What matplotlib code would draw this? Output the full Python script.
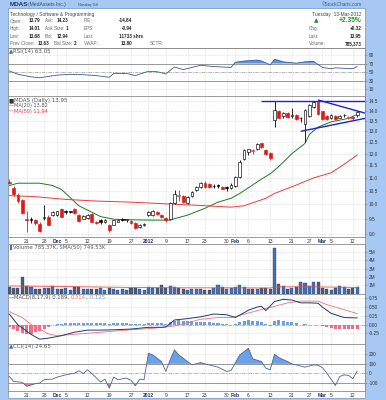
import matplotlib
matplotlib.use('Agg')
import matplotlib.pyplot as plt
import numpy as np
from matplotlib.patches import Rectangle

W, H = 386, 400
BG = '#a6c8f2'
RED = '#dd1a1a'

plt.rcParams['font.family'] = ['Liberation Sans', 'DejaVu Sans']

# ---- daily data, 15-Nov-2011 .. 13-Mar-2012 (81 trading days) ----
opens = [10.85, 10.62, 10.35, 10.15, 9.50, 9.48, 9.45, 9.33, 9.52, 9.57,
         9.62, 9.64, 9.85, 9.75, 9.76, 9.85, 9.62, 9.50, 9.52, 9.66,
         9.38, 9.45, 9.39, 9.30, 9.30, 9.40, 9.50, 9.45, 9.42, 9.36,
         9.22, 9.28, 9.62, 9.64, 9.72, 9.64, 9.52, 9.48, 10.04, 10.30,
         10.30, 10.05, 10.30, 10.52, 10.66, 10.78, 10.76, 10.70, 10.71, 10.65,
         10.63, 10.60, 10.68, 11.05, 11.78, 12.08, 12.12, 12.20, 12.45, 12.14,
         12.02, 13.55, 13.98, 13.72, 13.90, 13.72, 13.80, 13.62, 13.35, 13.75,
         14.20, 14.42, 13.98, 13.74, 13.62, 13.74, 13.66, 13.80, 13.64, 13.68,
         13.79]
highs = [10.97, 10.70, 10.40, 10.20, 9.78, 9.55, 9.50, 9.38, 9.98, 9.62,
         9.78, 9.78, 9.88, 9.80, 9.78, 9.88, 9.65, 9.63, 9.65, 9.70,
         9.42, 9.48, 9.48, 9.33, 9.47, 9.50, 9.52, 9.50, 9.45, 9.38,
         9.33, 9.36, 9.76, 9.80, 9.78, 9.66, 9.55, 10.10, 10.52, 10.53,
         10.35, 10.32, 10.48, 10.70, 10.82, 10.88, 10.80, 10.74, 10.75, 10.68,
         10.68, 10.78, 11.08, 11.72, 12.18, 12.22, 12.22, 12.46, 12.48, 12.18,
         12.05, 14.50, 14.02, 13.92, 13.94, 14.16, 13.84, 13.70, 14.10, 14.35,
         14.52, 14.48, 14.00, 13.80, 13.85, 13.78, 13.80, 13.85, 13.75, 13.72,
         14.01]
lows = [10.75, 10.30, 10.05, 9.65, 9.05, 9.35, 9.30, 9.05, 9.45, 9.28,
        9.58, 9.60, 9.55, 9.65, 9.68, 9.65, 9.38, 9.48, 9.50, 9.38,
        9.32, 9.33, 9.36, 9.07, 9.28, 9.37, 9.42, 9.40, 9.33, 9.16,
        9.20, 9.25, 9.58, 9.60, 9.62, 9.52, 9.38, 9.45, 10.00, 10.12,
        10.05, 10.02, 10.25, 10.50, 10.62, 10.62, 10.60, 10.60, 10.62, 10.55,
        10.50, 10.58, 10.65, 11.00, 11.72, 11.95, 12.00, 12.16, 12.25, 11.92,
        11.72, 13.22, 13.62, 13.66, 13.65, 13.65, 13.55, 13.42, 12.52, 13.70,
        14.15, 13.78, 13.55, 13.55, 13.58, 13.52, 13.62, 13.70, 13.60, 13.55,
        13.68]
closes = [10.80, 10.38, 10.12, 9.70, 9.45, 9.46, 9.35, 9.10, 9.57, 9.30,
          9.74, 9.76, 9.57, 9.72, 9.73, 9.68, 9.42, 9.60, 9.62, 9.40,
          9.36, 9.38, 9.45, 9.13, 9.44, 9.46, 9.47, 9.48, 9.36, 9.20,
          9.30, 9.31, 9.72, 9.75, 9.66, 9.57, 9.44, 10.05, 10.38, 10.33,
          10.10, 10.28, 10.45, 10.64, 10.78, 10.66, 10.64, 10.67, 10.68, 10.58,
          10.59, 10.72, 11.04, 11.65, 12.14, 12.18, 12.15, 12.42, 12.30, 11.98,
          11.80, 14.05, 13.66, 13.88, 13.68, 13.78, 13.58, 13.66, 14.05, 14.30,
          14.45, 13.82, 13.60, 13.58, 13.80, 13.58, 13.76, 13.77, 13.70, 13.63,
          13.95]
volume_m = [0.76, 0.70, 0.62, 2.05, 0.95, 0.80, 0.50, 0.55, 0.68, 0.72,
            0.90, 0.55, 0.50, 0.62, 0.48, 0.78, 0.82, 0.60, 0.50, 0.55,
            0.52, 0.62, 0.48, 0.70, 0.55, 0.42, 0.50, 0.38, 0.62, 0.68,
            0.55, 0.45, 0.75, 0.70, 0.68, 1.05, 0.72, 0.95, 0.85, 0.62,
            0.55, 0.48, 0.60, 0.52, 0.58, 0.45, 0.40, 0.62, 1.05, 0.75,
            0.55, 0.62, 0.82, 1.00, 0.75, 0.60, 0.52, 0.55, 0.62, 0.70,
            0.55, 5.45, 1.16, 0.95, 0.55, 0.62, 0.78, 1.36, 1.30, 0.95,
            1.36, 1.36, 0.72, 0.60, 0.45, 0.62, 0.90, 0.85, 0.55, 0.62,
            0.785]
macd_hist = [-0.07, -0.12, -0.18, -0.24, -0.27, -0.26, -0.22, -0.18, -0.12, -0.07,
             -0.02, 0.01, 0.02, 0.03, 0.04, 0.05, 0.04, 0.05, 0.05, 0.04,
             0.04, 0.04, 0.04, 0.02, 0.03, 0.03, 0.03, 0.03, 0.02, 0.01,
             0.01, 0.01, 0.04, 0.05, 0.04, 0.03, 0.01, 0.07, 0.11, 0.12,
             0.10, 0.10, 0.09, 0.08, 0.08, 0.07, 0.06, 0.05, 0.04, 0.02,
             0.01, -0.01, 0.02, 0.08, 0.11, 0.12, 0.11, 0.09, 0.07, 0.02,
             -0.03, 0.10, 0.12, 0.11, 0.08, 0.06, 0.03, 0.00, 0.01, 0.00,
             0.00, -0.02, -0.05, -0.08, -0.10, -0.12, -0.13, -0.13, -0.12, -0.12,
             -0.125]

# indicator lines (day index, value)
ma20_days = [0, 2, 7, 10, 12, 14, 16, 19, 21, 24, 28, 33, 37, 38, 41, 45, 48, 51, 53,
             58, 60, 62, 65, 68, 69, 71, 74, 78, 80]
ma20_vals = [10.70, 10.79, 10.79, 10.70, 10.55, 10.25, 9.95, 9.72, 9.57, 9.48, 9.46,
             9.45, 9.45, 9.50, 9.62, 9.86, 10.08, 10.22, 10.40, 10.95, 11.16, 11.46,
             12.00, 12.45, 12.85, 13.20, 13.45, 13.62, 13.82]
ma50_days = [0, 6, 13, 20, 28, 36, 44, 51, 54, 59, 61, 66, 70, 74, 77, 80]
ma50_vals = [10.32, 10.28, 10.18, 10.12, 10.08, 10.02, 9.96, 9.90, 9.95, 10.22,
             10.40, 10.72, 11.00, 11.20, 11.55, 11.94]
trend_days = [[58, 81.8], [71, 81.8], [67, 81.8]]
trend_vals = [[14.5, 14.5], [14.55, 13.88], [13.0, 13.62]]

rsi_days = [0, 2, 5, 7, 9, 11, 14, 17, 20, 23, 24, 27, 29, 32, 34, 36, 38, 40, 44,
            47, 51, 52, 54, 57, 58, 60, 61, 63, 66, 68, 70, 71, 72, 74, 75, 77, 79, 80]
rsi_vals = [53, 45, 39, 37, 40, 43, 45, 44, 42, 38, 47, 47, 42, 52, 51, 46, 62, 56, 66,
            63, 61, 73, 76, 78, 76, 67, 80, 74, 71, 74, 75, 68, 61, 58, 60, 59, 58, 63.05]

volsma_days = [0, 10, 20, 30, 40, 50, 60, 61, 65, 70, 75, 80]
volsma_vals = [0.92, 0.88, 0.80, 0.74, 0.70, 0.70, 0.68, 0.80, 0.82, 0.82, 0.78, 0.75]

macd_days = [0, 2, 5, 7, 9, 12, 15, 18, 21, 24, 28, 32, 35, 36, 38, 41, 44, 47, 50,
             52, 55, 57, 58, 59, 61, 63, 65, 67, 69, 71, 72, 74, 77, 80]
macd_vals = [0.30, -0.01, -0.28, -0.42, -0.39, -0.32, -0.22, -0.16, -0.16, -0.15,
             -0.13, -0.08, -0.08, -0.07, 0.13, 0.17, 0.22, 0.30, 0.28, 0.20, 0.41,
             0.50, 0.52, 0.40, 0.66, 0.72, 0.70, 0.62, 0.62, 0.61, 0.50, 0.32, 0.20,
             0.189]
sig_days = [0, 3, 5, 9, 11, 15, 21, 28, 33, 38, 41, 44, 48, 51, 55, 58, 61, 64, 67,
            71, 73, 76, 80]
sig_vals = [0.37, 0.20, 0.0, -0.27, -0.32, -0.28, -0.22, -0.15, -0.11, -0.04, 0.05,
            0.15, 0.20, 0.20, 0.33, 0.43, 0.52, 0.62, 0.67, 0.67, 0.57, 0.46, 0.314]

cci_days = [0, 1, 3, 4, 6, 7, 8, 10, 11, 13, 15, 16, 17, 18, 19, 21, 22, 23, 24, 25,
            27, 28, 29, 30, 31, 32, 33, 35, 36, 37, 38, 39, 41, 42, 44, 45, 48, 50,
            51, 53, 55, 56, 58, 59, 60, 61, 62, 64, 65, 68, 70, 71, 72, 73, 74, 75,
            76, 77, 78, 79, 80]
cci_vals = [-31, -83, -93, -134, -107, -100, -65, -58, -38, -14, 3, 28, 0, 38, 0,
            -90, -59, -152, -38, -65, -48, -72, -128, -59, -65, 210, 193, 124, 21,
            141, 245, 193, 124, 90, 114, 100, 66, 21, 31, 193, 262, 152, 124, 55,
            38, 200, 165, 124, 100, 66, 90, 85, 60, 5, -60, -125, -31, -15, -20,
            -55, 24.65]

date_days = [4, 8, 11, 13, 18, 23, 28, 32, 36, 41, 45, 50, 52, 55, 60, 65, 69, 72, 74, 79]
date_labels = ['21', '28', 'Dec', '5', '12', '19', '27', '2012', '9', '17', '23', '30',
               'Feb', '6', '13', '21', '27', 'Mar', '5', '12']
bold_labels = ['Dec', '2012', 'Feb', 'Mar']

# ---------------------------------------------------------------
fig = plt.figure(figsize=(W / 100, H / 100), dpi=100, facecolor=BG)

def rect(x0, y0, x1, y1):
    return [x0 / W, 1 - y1 / H, (x1 - x0) / W, (y1 - y0) / H]

L, R = 7.5, 365
fig.patches.append(Rectangle((L / W, 1 - 398 / H), (R - L) / W, (398 - 8.3) / H,
                             transform=fig.transFigure, facecolor='white',
                             edgecolor='#7f9fcc', lw=0.6, zorder=-5))

def ftext(x, y, s, **kw):
    kw.setdefault('fontsize', 3.3)
    kw.setdefault('va', 'center')
    fig.text(x / W, 1 - y / H, s, **kw)

# title line
ftext(9.5, 4.6, 'MDAS', fontsize=4.6, fontweight='bold', color='#1b3060')
ftext(28, 4.8, '(MedAssets Inc.)', fontsize=3.6, color='#3b4b6b')
ftext(78, 5.0, 'Nasdaq GS', fontsize=2.8, color='#3b4b6b')
ftext(362, 4.8, '\u00a9StockCharts.com', fontsize=3.4, color='#3b5b8c', ha='right')

# header block
lab = '#666666'
val = '#222222'
rows_y = [21.0, 28.7, 36.0, 43.8]
ftext(10, 14.2, 'Technology / Software & Programming', color='#444444', fontsize=3.5)
ftext(361.5, 14.2, 'Tuesday  13-Mar-2012', color='#444444', ha='right', fontsize=3.5)
left_cols = [('Open:', '13.79', 40.5), ('High:', '14.01', 40.5), ('Low:', '13.68', 40.5),
             ('Prev Close:', '13.63', 49.5)]
mid_cols = [('Ask:', 45, '14.23', 68.5), ('Ask Size:', 45, '1', 68.5), ('Bid:', 45, '12.94', 68.5),
            ('Bid Size:', 53.5, '2', 76)]
third_cols = [('P/E:', '-14.84', 132.3), ('EPS:', '-0.94', 132.3), ('Last:', '11733 shrs', 143.5),
              ('VWAP:', '13.80', 132.3)]
for y, (a, b, bx), (c, cx, d, dx), (e, f, fx_) in zip(rows_y, left_cols, mid_cols, third_cols):
    ftext(10, y, a, color=lab)
    ftext(bx, y, b, color=val, fontweight='bold', ha='right')
    ftext(cx, y, c, color=lab)
    ftext(dx, y, d, color=val, fontweight='bold', ha='right')
    ftext(83.5, y, e, color=lab)
    ftext(fx_, y, f, color=val, fontweight='bold', ha='right')
ftext(150, 43.8, 'SCTR:', color=lab)
ftext(313.5, 20.5, '\u25b2', color='#1f8a1f', fontsize=4.2, family='DejaVu Sans')
ftext(361.5, 20.8, '+2.35%', color='#1f8a1f', fontsize=4.8, fontweight='bold', ha='right')
for y, a, b in zip(rows_y[1:], ['Chg:', 'Last:', 'Volume:'], ['+0.32', '13.95', '785,373']):
    ftext(308.5, y, a, color=lab)
    ftext(361.5, y, b, color=val, fontweight='bold', ha='right')

fig.lines.append(plt.Line2D([L / W, R / W], [1 - 48.3 / H] * 2, transform=fig.transFigure,
                            color='#8c8c8c', lw=0.6))

days = np.arange(len(closes))
XL = (-0.4, 81.8)

def panel(y0, y1, ylim, ticks, labels, log=False):
    ax = fig.add_axes(rect(L, y0, R, y1))
    ax.set_facecolor('white')
    if log:
        ax.set_yscale('log')
        ax.yaxis.set_minor_locator(matplotlib.ticker.NullLocator())
    ax.set_xlim(*XL)
    ax.set_ylim(*ylim)
    ax.set_yticks(ticks)
    ax.set_yticklabels(labels)
    ax.yaxis.tick_right()
    ax.tick_params(axis='y', length=1.5, width=0.5, color='#888888', pad=1.2,
                   labelsize=3.4, labelcolor='#333333')
    ax.set_xticks(date_days)
    ax.tick_params(axis='x', length=0, labelbottom=False)
    for d in date_days:
        ax.axvline(d, color='#c4c4c4', lw=0.4, ls=(0, (1, 1.5)), zorder=0)
    for t in ticks:
        ax.axhline(t, color='#c4c4c4', lw=0.4, ls=(0, (1, 1.5)), zorder=0)
    for s in ax.spines.values():
        s.set_color('#8c8c8c')
        s.set_linewidth(0.6)
    return ax

def date_axis(ax):
    ax.tick_params(axis='x', labelbottom=True, pad=1.3, labelsize=3.6, labelcolor='#333333')
    ax.set_xticklabels(date_labels)
    for t in ax.get_xticklabels():
        if t.get_text() in bold_labels:
            t.set_fontweight('bold')
            t.set_color('#1b3060')

def label_row(ax, y, parts, size=4.2):
    r = fig.canvas.get_renderer()
    x = 0.004
    for s, c in parts:
        t = ax.text(x, y, s, color=c, fontsize=size, transform=ax.transAxes, va='top',
                    ha='left', family='DejaVu Sans', zorder=6)
        bb = t.get_window_extent(renderer=r)
        x = ax.transAxes.inverted().transform((bb.x1, bb.y0))[0]

# ---- RSI ----
ax = panel(48.3, 96, (-5.6, 105.6), [10, 30, 50, 70, 90], ['10', '30', '50', '70', '90'])
ax.axhline(70, color='#999999', lw=0.7)
ax.axhline(30, color='#999999', lw=0.7)
ax.axhline(50, color='#aaaaaa', lw=0.6, ls=(0, (4, 1.5, 1, 1.5)))
rx, ry = np.array(rsi_days), np.array(rsi_vals, float)
ax.fill_between(rx, ry, 70, where=ry > 70, interpolate=True, color='#5b96e6', lw=0, zorder=2)
ax.plot(rx, ry, color='#3d5a8c', lw=0.6, zorder=3)
label_row(ax, 0.985, [('\u25b2', '#3a6fc8'), ('RSI(14) 63.05', '#555555')], 4.0)

# ---- price ----
pt = [9.0 + 0.5 * i for i in range(12)]
ax = panel(96, 236.8, (8.90, 14.76), pt, ['%.1f' % v for v in pt], log=True)
o, h, l, c = map(np.array, (opens, highs, lows, closes))
prev = np.r_[o[0], c[:-1]]
col = np.where(c < prev, RED, 'black')
fill = np.where(c >= o, 'white', col)
ax.vlines(days, l, h, colors=col, lw=0.6, zorder=3)
ax.bar(days, np.maximum(np.abs(c - o), 0.004), bottom=np.minimum(o, c), width=0.64,
       color=fill, edgecolor=col, lw=0.45, zorder=4)
ax.plot(ma20_days, ma20_vals, color='#1e7a1e', lw=0.7, zorder=2)
ax.plot(ma50_days, ma50_vals, color='#ee3b3b', lw=0.7, zorder=2)
for tx, ty in zip(trend_days, trend_vals):
    ax.plot(tx, ty, color='#1f1fe0', lw=1.0, zorder=5, solid_capstyle='butt')
label_row(ax, 0.985, [('\u25a0', '#333333'), ('MDAS (Daily) 13.95', '#555555')], 4.0)
label_row(ax, 0.95, [('\u2014', '#1e7a1e'), ('MA(20) 13.82', '#555555')], 3.6)
label_row(ax, 0.91, [('\u2014', '#ee3b3b'), ('MA(50) 11.94', '#ee3b3b')], 3.6)
date_axis(ax)

# ---- volume ----
ax = panel(244.5, 294.3, (-0.08, 5.92), [1, 2, 3, 4, 5], ['1M', '2M', '3M', '4M', '5M'])
v = np.array(volume_m)
vcol = np.where(c >= prev, '#3a72bd', '#4d5b78')
ax.bar(days, v, width=0.7, color=vcol, edgecolor='#2a3a5a', lw=0.25, zorder=3)
ax.plot(volsma_days, volsma_vals, color='#ee4b4b', lw=0.6, zorder=4)
label_row(ax, 0.985, [('\u258c', '#3a72bd'), ('Volume 785.37K, SMA(50) 749.53K', '#555555')], 3.8)

# ---- MACD ----
ax = panel(294.3, 343.5, (-0.543, 0.865), [-0.25, 0, 0.25, 0.5, 0.75],
           ['-0.25', '0.00', '0.25', '0.50', '0.75'])
ax.axhline(0, color='#aaaaaa', lw=0.6, ls=(0, (4, 1.5, 1, 1.5)))
hv = np.array(macd_hist)
ax.bar(days, hv, width=0.7, color=np.where(hv >= 0, '#6f9fe0', '#ee6d84'), lw=0, zorder=2)
ax.plot(sig_days, sig_vals, color='#f0707a', lw=0.6, zorder=3)
ax.plot(macd_days, macd_vals, color='#1d3a72', lw=0.7, zorder=4)
label_row(ax, 0.985, [('\u2014', '#1d3a72'), ('MACD(8,17,9) 0.189, ', '#555555'),
                      ('0.314', '#f0707a'), (', ', '#555555'), ('-0.125', '#6f9fe0')], 3.8)

# ---- CCI ----
ax = panel(343.5, 391, (-183, 312.5), [-100, 0, 100, 200], ['-100', '0', '100', '200'])
ax.axhline(100, color='#999999', lw=0.7)
ax.axhline(-100, color='#999999', lw=0.7)
ax.axhline(0, color='#aaaaaa', lw=0.6, ls=(0, (4, 1.5, 1, 1.5)))
cx, cy = np.array(cci_days), np.array(cci_vals, float)
ax.fill_between(cx, cy, 100, where=cy > 100, interpolate=True, color='#6aa2ea', lw=0, zorder=2)
ax.fill_between(cx, cy, -100, where=cy < -100, interpolate=True, color='#f07a8c', lw=0, zorder=2)
ax.plot(cx, cy, color='#4a6494', lw=0.6, zorder=3)
label_row(ax, 0.985, [('\u25b2', '#3a6fc8'), ('CCI(14) 24.65', '#555555')], 4.0)
date_axis(ax)

fig.savefig('out.png', dpi=100, facecolor=BG)
